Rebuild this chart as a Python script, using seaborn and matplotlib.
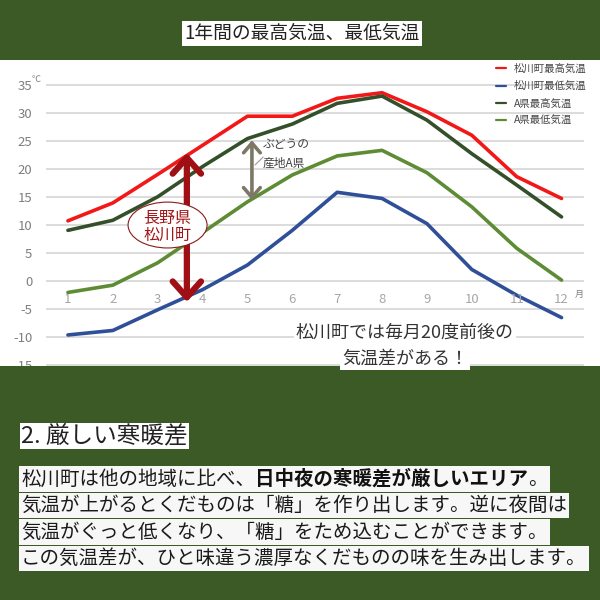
import pandas as pd
import numpy as np
import seaborn as sns
import matplotlib.pyplot as plt
from matplotlib.patches import Ellipse, Rectangle, FancyArrowPatch

# データ
months = list(range(1, 13))
matsukawa_high = [10.7, 13.9, 19.0, 24.2, 29.4, 29.4, 32.6, 33.6, 30.2, 26.0, 18.6, 14.7]
matsukawa_low = [-9.7, -8.9, -5.2, -1.6, 2.8, 9.0, 15.8, 14.7, 10.2, 2.0, -2.6, -6.6]
a_high = [9.0, 10.8, 15.0, 20.4, 25.4, 28.0, 31.7, 33.0, 28.7, 22.7, 17.1, 11.4]
a_low = [-2.1, -0.8, 3.2, 8.6, 14.1, 18.9, 22.3, 23.3, 19.3, 13.2, 5.8, 0.1]
series_names = ["松川町最高気温", "松川町最低気温", "A県最高気温", "A県最低気温"]
series_colors = ["#f21818", "#2f4f98", "#34502a", "#5e8c35"]
y_ticks = list(range(-15, 40, 5))

title = "1年間の最高気温、最低気温"
heading = "2. 厳しい寒暖差"
body_lines = [
    "松川町は他の地域に比べ、日中夜の寒暖差が厳しいエリア。",
    "気温が上がるとくだものは「糖」を作り出します。逆に夜間は",
    "気温がぐっと低くなり、「糖」をため込むことができます。",
    "この気温差が、ひと味違う濃厚なくだものの味を生み出します。",
]
body_bold = "日中夜の寒暖差が厳しいエリア"

df = pd.DataFrame({
    "month": months,
    series_names[0]: matsukawa_high,
    series_names[1]: matsukawa_low,
    series_names[2]: a_high,
    series_names[3]: a_low,
}).melt(id_vars="month", var_name="series", value_name="temp")

sns.set_style("white")
plt.rcParams["font.family"] = ["Noto Sans CJK JP", "DejaVu Sans"]
plt.rcParams["axes.unicode_minus"] = False

GREEN = "#3c5a25"
fig = plt.figure(figsize=(6, 6), dpi=100, facecolor=GREEN)
fig.add_artist(Rectangle((0, 234 / 600), 1, 306 / 600, transform=fig.transFigure,
                         facecolor="white", edgecolor="none", zorder=-1))

# グラフ本体
ax = fig.add_axes([45.5 / 600, 234 / 600, 538.5 / 600, 306 / 600])
sns.lineplot(data=df, x="month", y="temp", hue="series", hue_order=series_names,
             palette=series_colors, linewidth=2.6, legend=False, ax=ax)
ax.set_xlim(0.5, 12.5)
ax.set_ylim(-15.25, 39.45)
ax.set_yticks(y_ticks)
ax.set_xticks([])
ax.set_xlabel("")
ax.set_ylabel("")
ax.set_axisbelow(True)
ax.yaxis.grid(True, color="#d9d9d9", lw=1.3)
sns.despine(ax=ax, left=True, bottom=True)
ax.tick_params(axis="y", length=0, pad=9.5, labelsize=9.5, labelcolor="#7f7f7f")

for m in months:
    ax.text(m, -3.45, str(m), ha="center", va="center", color="#a6a6a6", fontsize=9.5)
ax.text(12.3, -2.5, "月", ha="left", va="center", color="#808080", fontsize=6.5)
ax.text(0.3, 36.0, "℃", ha="center", va="center", color="#808080", fontsize=6.5, clip_on=False)

leg = ax.legend(ax.lines[:4], series_names, loc="upper left",
                bbox_to_anchor=(496 / 600, 1 - 64 / 600), bbox_transform=fig.transFigure,
                frameon=False, fontsize=7.5, handlelength=1.0, handletextpad=0.7,
                labelspacing=0.68, borderpad=0, borderaxespad=0)
for line in leg.get_lines():
    line.set_linewidth(1.6)
for t in leg.get_texts():
    t.set_color("#444444")

# 注釈
ax.add_patch(FancyArrowPatch((3.65, 22.8), (3.65, -3.8),
                             arrowstyle="<->,head_length=0.95,head_width=0.85",
                             mutation_scale=12, lw=4.5, color="#a00f14",
                             shrinkA=0, shrinkB=0, zorder=5))
ax.add_patch(Ellipse((3.22, 9.95), width=1.76, height=8.2, facecolor="white",
                     edgecolor="#8b1a1a", lw=0.8, zorder=6))
ax.text(3.22, 9.6, "長野県\n松川町", ha="center", va="center", color="#a01515",
        fontsize=11.5, linespacing=1.05, zorder=7)

ax.add_patch(FancyArrowPatch((5.1, 25.1), (5.1, 14.4),
                             arrowstyle="<->,head_length=0.7,head_width=0.6",
                             mutation_scale=10, lw=2.6, color="#7d7766",
                             shrinkA=0, shrinkB=0, zorder=5))
ax.plot([5.17, 5.35], [20.7, 22.1], color="#9a9a9a", lw=0.8)
ax.text(5.34, 22.6, "ぶどうの\n産地A県", ha="left", va="center", color="#404040",
        fontsize=8.5, linespacing=1.6)

# 上に重ねるレイヤー (ピクセル座標)
ov = fig.add_axes([0, 0, 1, 1], zorder=2)
ov.set_xlim(0, 600)
ov.set_ylim(600, 0)
ov.axis("off")
ov.add_patch(Rectangle((0, 366), 600, 234, facecolor=GREEN, edgecolor="none", zorder=0))

box = dict(boxstyle="square,pad=0.12", fc="white", ec="none")
ov.text(405, 333, "松川町では毎月20度前後の", ha="center", va="center", fontsize=13,
        color="#333333", bbox=box)
ov.text(405, 359, "気温差がある！", ha="center", va="center", fontsize=13,
        color="#333333", bbox=box)

ov.text(302, 33.5, title, ha="center", va="center", fontsize=13.5, color="#222222", bbox=box)
ov.text(21, 436, heading, ha="left", va="center", fontsize=17, color="#222222",
        bbox=dict(boxstyle="square,pad=0.06", fc="white", ec="none"))

renderer = fig.canvas.get_renderer()
body_box = dict(boxstyle="square,pad=0.12", fc="#f7f7f7", ec="none")
for i, line in enumerate(body_lines):
    y = 479 + 26.5 * i
    if body_bold in line:
        # 行全体の大きさを測って背景を敷き、太字部分を分けて重ねる
        tmp = ov.text(21, y, line, ha="left", va="center", fontsize=14)
        bb = tmp.get_window_extent(renderer).transformed(ov.transData.inverted())
        tmp.remove()
        p = 0.12 * 14 / 0.72
        ov.add_patch(Rectangle((bb.x0 - p, min(bb.y0, bb.y1) - p), bb.width + 2 * p,
                               abs(bb.height) + 2 * p, facecolor="#f7f7f7",
                               edgecolor="none", zorder=1))
        head, tail = line.split(body_bold)
        t1 = ov.text(21, y, head, ha="left", va="center", fontsize=14, color="#1a1a1a")
        t2 = ov.annotate(body_bold, xy=(1, 0.5), xycoords=t1, ha="left", va="center",
                         fontsize=14, fontweight="bold", color="#111111")
        ov.annotate(tail, xy=(1, 0.5), xycoords=t2, ha="left", va="center",
                    fontsize=14, color="#1a1a1a")
    else:
        ov.text(21, y, line, ha="left", va="center", fontsize=14, color="#1a1a1a", bbox=body_box)

fig.savefig("out.png", dpi=100, facecolor=GREEN)
